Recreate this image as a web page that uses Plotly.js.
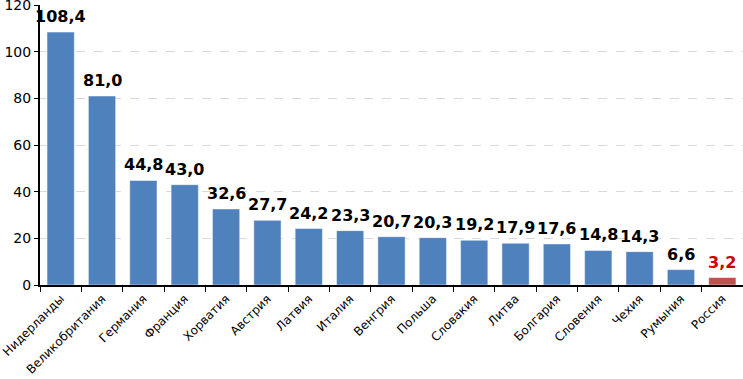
<!DOCTYPE html>
<html>
<head>
<meta charset="utf-8">
<script src="https://cdn.plot.ly/plotly-3.0.1.min.js"></script>
<style>html,body{margin:0;padding:0;background:#fff;}#chart{width:743px;height:379px;}</style>
</head>
<body>
<div id="chart"></div>
<script>
const categories = ["Нидерланды","Великобритания","Германия","Франция","Хорватия","Австрия","Латвия","Италия","Венгрия","Польша","Словакия","Литва","Болгария","Словения","Чехия","Румыния","Россия"];
const values = [108.4,81.0,44.8,43.0,32.6,27.7,24.2,23.3,20.7,20.3,19.2,17.9,17.6,14.8,14.3,6.6,3.2];
const yTicks = [0,20,40,60,80,100,120];

const blue = "#4F81BD", red = "#C0504D";
const barColors = categories.map(c => c === "Россия" ? red : blue);
const textColors = categories.map(c => c === "Россия" ? "#CC0000" : "#000000");

const trace = {
  type: "bar",
  x: categories,
  y: values,
  marker: {color: barColors, line: {color: "rgba(255,255,255,0.5)", width: 1}},
  hoverinfo: "none"
};

const annotations = categories.map((c, i) => ({
  x: c, y: values[i], xref: "x", yref: "y",
  text: values[i].toFixed(1).replace(".", ","),
  showarrow: false, yanchor: "bottom", yshift: 4,
  font: {family: "DejaVu Sans", size: 16, color: textColors[i], weight: "bold"}
}));

const layout = {
  width: 743, height: 379,
  margin: {l: 40, r: 0, t: 5, b: 94, autoexpand: false},
  bargap: 0.34,
  showlegend: false,
  plot_bgcolor: "#fff", paper_bgcolor: "#fff",
  font: {family: "DejaVu Sans", size: 13, color: "#000"},
  annotations: annotations,
  xaxis: {
    automargin: false,
    range: [-0.5, categories.length - 0.5],
    autorange: false,
    tickangle: -45,
    ticklabeloverflow: "allow",
    showline: true, linecolor: "#000", linewidth: 2,
    ticks: "outside", tickson: "boundaries", ticklen: 5, tickcolor: "#000", tickwidth: 1,
    tickfont: {family: "DejaVu Sans", size: 12, color: "#000"},
    fixedrange: true
  },
  yaxis: {
    automargin: false,
    range: [0, 120],
    autorange: false,
    tickvals: yTicks,
    ticklabeloverflow: "allow",
    showline: true, linecolor: "#000", linewidth: 2,
    ticks: "outside", ticklen: 4, tickcolor: "#000",
    showgrid: true, gridcolor: "#d9d9d9", griddash: "dash", gridwidth: 1,
    zeroline: false,
    tickfont: {family: "DejaVu Sans", size: 14, color: "#000"},
    fixedrange: true
  }
};

Plotly.newPlot("chart", [trace], layout, {displayModeBar: false, staticPlot: true});
</script>
</body>
</html>
